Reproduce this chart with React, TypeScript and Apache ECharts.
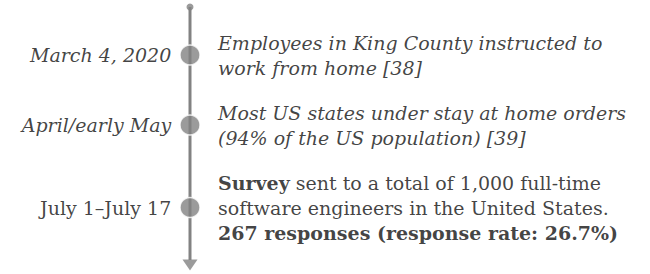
import React, { useEffect, useRef } from "react";
import * as echarts from "echarts";

const dates = ["March 4, 2020", "April/early May", "July 1\u2013July 17"];
const dateItalic = [true, true, false];
const descriptions: string[][] = [
  ["Employees in King County instructed to", "work from home [38]"],
  ["Most US states under stay at home orders", "(94% of the US population) [39]"],
  [
    "{b|Survey} sent to a total of 1,000 full-time",
    "software engineers in the United States.",
    "{b|267 responses (response rate: 26.7%)}",
  ],
];
const descItalic = [true, true, false];

// layout in "text line" units
const LINE = 25;
const TOP_PAD = 1.2;
const GAP = 0.8;

function eventPositions(): number[] {
  const out: number[] = [];
  let cur = TOP_PAD;
  descriptions.forEach((d, i) => {
    if (i > 0) cur += GAP;
    out.push(cur + d.length / 2);
    cur += d.length;
  });
  return out;
}

export default function App() {
  const ref = useRef<HTMLDivElement>(null);
  useEffect(() => {
    if (!ref.current) return;
    const chart = echarts.init(ref.current, null, { renderer: "svg" });
    const pos = eventPositions();
    const font = "DejaVu Serif";
    const fs = 19;
    const color = "#111";
    const gray = "#828282";
    const lineTop = 7 / LINE;
    const lineEnd = 260 / LINE;
    const arrowCenter = 265 / LINE;
    chart.setOption({
      animation: false,
      grid: { left: 190, right: 0, top: 0, bottom: 0 },
      xAxis: { type: "value", min: 0, max: 1, show: false },
      yAxis: { type: "value", min: 0, max: 274 / LINE, inverse: true, show: false },
      series: [
        {
          type: "line",
          clip: false,
          symbol: "none",
          lineStyle: { color: gray, width: 3 },
          data: [[0, lineTop], [0, lineEnd]],
          z: 1,
        },
        {
          type: "scatter",
          clip: false,
          symbol: "circle",
          symbolSize: 7,
          itemStyle: { color: gray },
          data: [[0, lineTop]],
          z: 2,
        },
        {
          type: "scatter",
          clip: false,
          symbol: "triangle",
          symbolRotate: 180,
          symbolSize: [15, 11],
          itemStyle: { color: gray },
          data: [[0, arrowCenter]],
          z: 2,
        },
        {
          type: "scatter",
          clip: false,
          symbol: "circle",
          symbolSize: 20,
          itemStyle: { color: gray, borderColor: "#fff", borderWidth: 1.5 },
          z: 5,
          label: {
            show: true,
            position: "left",
            distance: 8,
            fontFamily: font,
            fontSize: fs,
            color,
            formatter: (p: any) => dates[p.dataIndex],
          },
          data: pos.map((y, i) => ({
            value: [0, y],
            label: { fontStyle: dateItalic[i] ? "italic" : "normal" },
          })),
        },
        {
          type: "scatter",
          clip: false,
          symbolSize: 0,
          label: {
            show: true,
            position: "right",
            distance: 28,
            fontFamily: font,
            fontSize: fs,
            lineHeight: LINE,
            color,
            align: "left",
            formatter: (p: any) => descriptions[p.dataIndex].join("\n"),
            rich: {
              b: { fontWeight: "bold", fontFamily: font, fontSize: fs, color, lineHeight: LINE },
            },
          },
          data: pos.map((y, i) => ({
            value: [0, y],
            label: { fontStyle: descItalic[i] ? "italic" : "normal" },
          })),
        },
      ],
    });
    return () => chart.dispose();
  }, []);
  return <div ref={ref} style={{ width: 650, height: 274, position: "absolute", left: 0, top: 0 }} />;
}
